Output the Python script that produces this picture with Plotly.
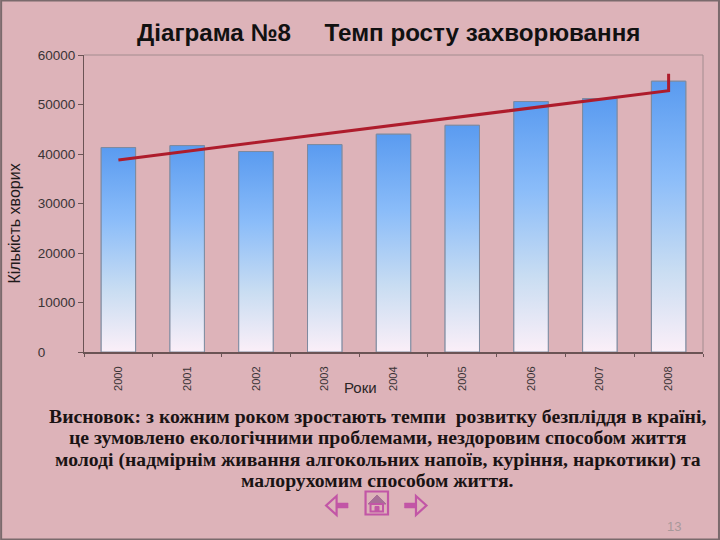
import plotly.graph_objects as go

years = [2000, 2001, 2002, 2003, 2004, 2005, 2006, 2007, 2008]
patients = [41300, 41700, 40500, 41900, 44000, 45800, 50600, 51200, 54700]
trend_x = [2000, 2001, 2002, 2003, 2004, 2005, 2006, 2007, 2008, 2008]
trend_y = [38800, 40550, 42300, 44050, 45800, 47500, 49300, 51050, 52800, 56200]
y_ticks = [0, 10000, 20000, 30000, 40000, 50000, 60000]

title_text = "Діаграма №8     Темп росту захворювання"
x_title = "Роки"
y_title = "Кількість хворих"
conclusion = [
    "Висновок: з кожним роком зростають темпи  розвитку безпліддя в країні,",
    "це зумовлено екологічними проблемами, нездоровим способом життя",
    "молоді (надмірнім живання алгокольних напоїв, куріння, наркотики) та",
    "малорухомим способом життя.",
]
page_number = "13"

BG = "#DDB3B9"
W, H = 720, 540
L, R, T, B = 83.5, 703.5, 55, 352
BAR_W = 0.5

def px(v): return (v - L) / (R - L)
def py(v): return (B - v) / (B - T)

fig = go.Figure()
fig.add_trace(go.Bar(x=years, y=patients, width=BAR_W, marker=dict(color="#8FBDF2", line=dict(color="#7F8FA6", width=1)), showlegend=False))

grad = [[0, "#FBEFF8"], [0.3, "#C9DDF2"], [0.65, "#8ABCF9"], [1, "#5A9BF0"]]
for yr, v in zip(years, patients):
    fig.add_trace(go.Scatter(
        x=[yr - BAR_W / 2, yr - BAR_W / 2, yr + BAR_W / 2, yr + BAR_W / 2, yr - BAR_W / 2],
        y=[0, v, v, 0, 0], mode="lines", fill="toself",
        line=dict(width=1, color="#7F8A9E"), showlegend=False, hoverinfo="skip",
        fillgradient=dict(type="vertical", colorscale=grad),
    ))

fig.add_trace(go.Scatter(x=trend_x, y=trend_y, mode="lines", line=dict(color="#AE1C2C", width=3), showlegend=False))

fig.update_layout(
    width=W, height=H, autosize=False,
    paper_bgcolor=BG, plot_bgcolor="rgba(0,0,0,0)",
    margin=dict(l=L, r=W - R, t=T, b=H - B, pad=0),
    font=dict(family="Liberation Sans", color="#2A2526"),
    bargap=0.5,
)
fig.update_xaxes(
    range=[1999.5, 2008.5], tickmode="array", tickvals=years, ticktext=[str(y) for y in years],
    tickangle=-90, tickfont=dict(size=11, color="#3A3436"), ticks="", ticklabelstandoff=8,
    showgrid=False, zeroline=False, showline=True, linecolor="#6B5455", linewidth=2,
    minor=dict(tickmode="linear", tick0=1999.5, dtick=1, ticks="outside", ticklen=3, tickcolor="#6B5455", showgrid=False),
)
fig.update_yaxes(
    range=[0, 60000], tickmode="array", tickvals=y_ticks,
    ticktext=[str(t) if t else "0" + "\u00a0" * 8 for t in y_ticks],
    tickfont=dict(size=13.5, color="#3A3436"), ticks="outside", ticklen=5, tickcolor="#6B5455", tickwidth=1,
    showgrid=False, zeroline=False, showline=True, linecolor="#6B5455", linewidth=1,
)

shapes = [
    dict(type="rect", xref="paper", yref="paper", x0=px(0.5), x1=px(719.5), y0=py(539.5), y1=py(0.5), line=dict(color="#7A6A6C", width=2), fillcolor="rgba(0,0,0,0)", layer="below"),
    dict(type="path", xref="paper", yref="paper", layer="below", line=dict(color="#A38C8F", width=1),
         path=f"M {px(L)} {py(T)} L {px(R)} {py(T)} L {px(R)} {py(B)}"),
]
PINK = "#C256A6"
def path_shape(d, fill="rgba(0,0,0,0)", color=PINK, width=2.2):
    parts = []
    for item in d:
        if item == "Z":
            parts.append("Z")
        else:
            c, x, y = item
            parts.append(f"{c} {px(x):.5f} {py(y):.5f}")
    return dict(type="path", xref="paper", yref="paper", path=" ".join(parts), fillcolor=fill, line=dict(color=color, width=width))

# navigation icons
shapes.append(path_shape([("M", 336.5, 496), ("L", 326, 505.5), ("L", 336.5, 515), "Z"]))
shapes.append(path_shape([("M", 336.5, 503), ("L", 348, 503), ("L", 348, 508), ("L", 336.5, 508), "Z"], fill=PINK, width=0.5))
shapes.append(path_shape([("M", 416, 496), ("L", 426.5, 505.5), ("L", 416, 515), "Z"]))
shapes.append(path_shape([("M", 404.5, 503), ("L", 416, 503), ("L", 416, 508), ("L", 404.5, 508), "Z"], fill=PINK, width=0.5))
shapes.append(path_shape([("M", 365.5, 491.5), ("L", 388, 491.5), ("L", 388, 514.5), ("L", 365.5, 514.5), "Z"]))
shapes.append(path_shape([("M", 368, 504), ("L", 377, 495), ("L", 386, 504), "Z"], fill="#A86F97", color="#A86F97", width=1))
shapes.append(path_shape([("M", 370.5, 504), ("L", 383, 504), ("L", 383, 511.5), ("L", 370.5, 511.5), "Z"], width=2))
shapes.append(path_shape([("M", 375, 506.5), ("L", 379, 506.5), ("L", 379, 511), ("L", 375, 511), "Z"], fill=PINK, width=1))
fig.update_layout(shapes=shapes)

def note(text, x, y, size, family, color, bold=False, angle=0):
    fig.add_annotation(xref="paper", yref="paper", x=px(x), y=py(y), text=f"<b>{text}</b>" if bold else text,
                       showarrow=False, xanchor="center", yanchor="middle", textangle=angle,
                       font=dict(size=size, family=family, color=color), align="center")

note(title_text, 388.5, 32.5, 24.2, "Liberation Sans", "#111111", bold=True)
note(x_title, 360.5, 387, 15, "Liberation Sans", "#2A2526")
note(y_title, 13, 224, 16, "Liberation Sans", "#1F1A1B", angle=-90)
for line, yy in zip(conclusion, [416, 437, 459, 480]):
    note(line, 377.5, yy, 19.7, "Liberation Serif", "#1A1314", bold=True)
note(page_number, 674, 526, 13, "Liberation Sans", "#A8989A")

fig.write_html("out.html", config=dict(displayModeBar=False),
               post_script="document.body.style.margin='0';document.body.style.overflow='hidden';")
